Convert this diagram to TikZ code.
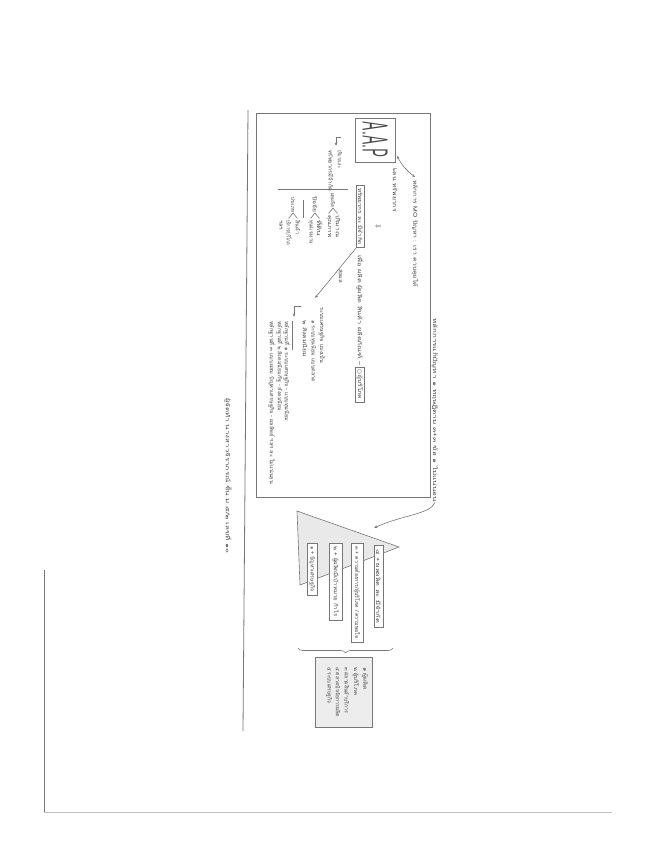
\documentclass[tikz,border=0pt]{standalone}
\usepackage{fontspec}
\usepackage{graphicx}
\newfontfamily\thai[Script=Thai]{Loma}
\newfontfamily\sym{DejaVu Sans}
\usetikzlibrary{arrows.meta,decorations.pathreplacing,calc}
\definecolor{ink}{HTML}{4A4A4A}
\definecolor{lin}{HTML}{777777}
\definecolor{tri}{HTML}{E9E9E9}
\definecolor{boxe}{HTML}{EDEDED}
\newcommand{\tw}[2]{\resizebox{#1pt}{\height}{#2}}
\begin{document}
\begin{tikzpicture}[x=1pt,y=-1pt,
  txt/.style={rotate=-90, inner sep=0pt, text=ink, font=\thai\fontsize{5.5}{6}\selectfont, anchor=west},
  bx/.style={txt, anchor=center, draw=lin, line width=0.6pt, fill=white, inner xsep=2.5pt, inner ysep=1.6pt},
  ln/.style={draw=lin, line width=0.6pt},
  arr/.style={ln, -{Stealth[length=3.5pt,width=2.6pt]}},
  dbl/.style={ln, {Stealth[length=3pt,width=2.4pt]}-{Stealth[length=3pt,width=2.4pt]}}]
\useasboundingbox (0,0) rectangle (655,848);
\fill[white] (0,0) rectangle (655,848);
% page edges of the scan
\draw[draw=lin, line width=0.8pt] (44,570) -- (44,812);
\draw[draw=lin!45, line width=0.6pt] (44,812) -- (612,812);
% long signature line and title
\draw[ln, line width=0.8pt] (248,110) -- (243,731);
\node[txt] (title) at (228,398) {\tw{155}{ผู้จัดทำ นางสาวจิราภรณ์ ชั้น ม.๕/๒ เลขที่ ๑๐}};
% main box
\draw[ln, line width=0.7pt] (256,113) rectangle (430,497);
% heading
\node[txt] (h1) at (435,318) {\tw{184}{หลักการแก้ปัญหา ๑ ทฤษฎีตาม ๓+๓ ข้อ ๑ ไม่แน่นอน}};
% A.A.P box
\node[draw=lin, line width=0.7pt, rotate=-90, minimum width=44pt, minimum height=40pt, inner sep=0pt, text=ink, font=\sffamily\fontsize{36}{36}\selectfont] (aap) at (375,140) {\tw{36}{A.A.P}};
\coordinate (d1) at (397,156);
\coordinate (d2) at (415,177);
\draw[dbl] (d1) to[bend right=12] (d2);
\node[txt] (p1) at (415,180) {\tw{107}{หลักการ MO ปัญหา : เรา ควบคุมได้}};
\node[txt] (p2) at (395,167) {{\sym ↳}\tw{40}{คน ทรัพยากร}};
\node[txt, anchor=center, font=\sym\fontsize{7}{7}\selectfont] (dn) at (378,226) {⇩};
\node[bx] (b1) at (360.5,216.5) {\tw{57}{ทรัพยากร ละ มีจำกัด}};
\node[txt] (p3) at (360,255) {\tw{110}{เพื่อ ผลิต ผู้ผลิต สินค้า ผลิตภัณฑ์ –}};
\node[bx] (b2) at (360,384.5) {{\sym ○}\,\tw{24}{ผู้บริโภค}};
% diagonal arrow
\coordinate (c1) at (315,298);
\draw[arr] (b1.south east) -- (c1);
\node[txt, anchor=center] (lab) at (341,276) {\tw{14}{ส่งผล}};
% economic systems block
\node[txt] (L1) at (322,307) {\tw{56}{ระบบเศรษฐกิจ แบ่งเป็น}};
\node[txt] (L2) at (313,320) {\tw{62}{๑ ระบบทุนนิยม แบบตลาด}};
\node[txt] (L3) at (305,320) {\tw{37}{๒ สังคมนิยม}};
\draw[arr] (301,306) -- (294,306) -- (294,317);
\draw[ln] (292,321) -- (292,350);
\node[txt] (L4) at (287,321) {\tw{100}{หลักฐานที่ ๑ ระบบเศรษฐกิจ - แบบทุนนิยม}};
\node[txt] (L5) at (280,321) {\tw{90}{หลักฐานที่ ๒ สังคมนิยม/รัฐ - สังคมนิยม}};
\node[txt] (L6) at (272,321) {\tw{163}{หลักฐานที่ ๓ แบบผสม ปัญหาเศรษฐกิจ - ผลลัพธ์ ฯลฯ ละ ไม่แน่นอน}};
% left column
\draw[arr] (341,137) -- (336,137) -- (336,146);
\node[txt] (q1) at (340,150) {\tw{18}{ปริมาณ ละ}};
\node[txt] (q2) at (331,150) {\tw{41}{ทรัพยากรมีจำกัด}};
\draw[ln] (278,189) -- (348,189);
\node[txt] (g1) at (333,193) {\tw{14}{ผลผลิต}};
\draw[ln] (337.5,213.5) -- (333,208) -- (328.5,213.5);
\node[txt] (g1a) at (338,215) {\tw{22}{ปริมาณ}};
\node[txt] (g1b) at (329,215) {\tw{22}{คุณภาพ}};
\node[txt] (g2) at (315,196) {\tw{16}{ปัจจัย}};
\draw[ln] (319.5,218.5) -- (315,213) -- (310.5,218.5);
\node[txt] (g2a) at (320,220) {\tw{16}{ที่ดิน}};
\node[txt] (g2b) at (311,220) {\tw{24}{ทุน/แรงงาน}};
\draw[ln] (303,200) -- (303,218);
\node[txt] (g3) at (293,197) {\tw{15}{ประเภท}};
\draw[ln] (297.5,218.5) -- (293,213) -- (288.5,218.5);
\node[txt] (g3a) at (298,220) {\tw{14}{สินค้า}};
\node[txt] (g3b) at (289,220) {\tw{25}{บริการ/บริโภค}};
\node[txt] (g3c) at (281,220) {\tw{10}{ฯลฯ}};
% triangle and its boxes
\coordinate (tt) at (374,528);
\draw[arr] (h1.east) .. controls (431,514) and (402,515) .. (tt);
\draw[ln, fill=tri] (297,511) -- (399,547) -- (300,585) -- cycle;
\node[bx, minimum width=82pt, minimum height=9pt] (ta) at (378.5,586) {\tw{74}{๔ + ผลผลิต ละ มีจำกัด}};
\node[bx, minimum width=99pt, minimum height=12pt] (tb) at (357,592.5) {\tw{92}{๓ + ความต้องการ/ผู้บริโภค / ความพอใจ}};
\node[bx, minimum width=77pt, minimum height=13pt] (tc) at (335.5,581.5) {\tw{70}{๒ + ผู้ผลิตมีเป้าหมาย กำไร}};
\node[bx, minimum width=52pt, minimum height=10pt] (td) at (312,569) {\tw{45}{๑ + ปัญหาเศรษฐกิจ}};
% brace and summary box
\draw[ln, decorate, decoration={brace, amplitude=5pt}] (393,648) -- (298,648);
\draw[ln, fill=boxe] (315,657) rectangle (372,727);
\node[txt] (e1) at (365,667) {\tw{23}{๑ ผู้ผลิต}};
\node[txt] (e2) at (356,667) {\tw{28}{๒ ผู้บริโภค}};
\node[txt] (e3) at (347,667) {\tw{46}{๓ ตลาดสินค้าบริการ}};
\node[txt] (e4) at (338,667) {\tw{50}{๔ ตลาดปัจจัยการผลิต}};
\node[txt] (e5) at (329,667) {\tw{36}{๕ ระบบเศรษฐกิจ}};
\end{tikzpicture}
\end{document}
